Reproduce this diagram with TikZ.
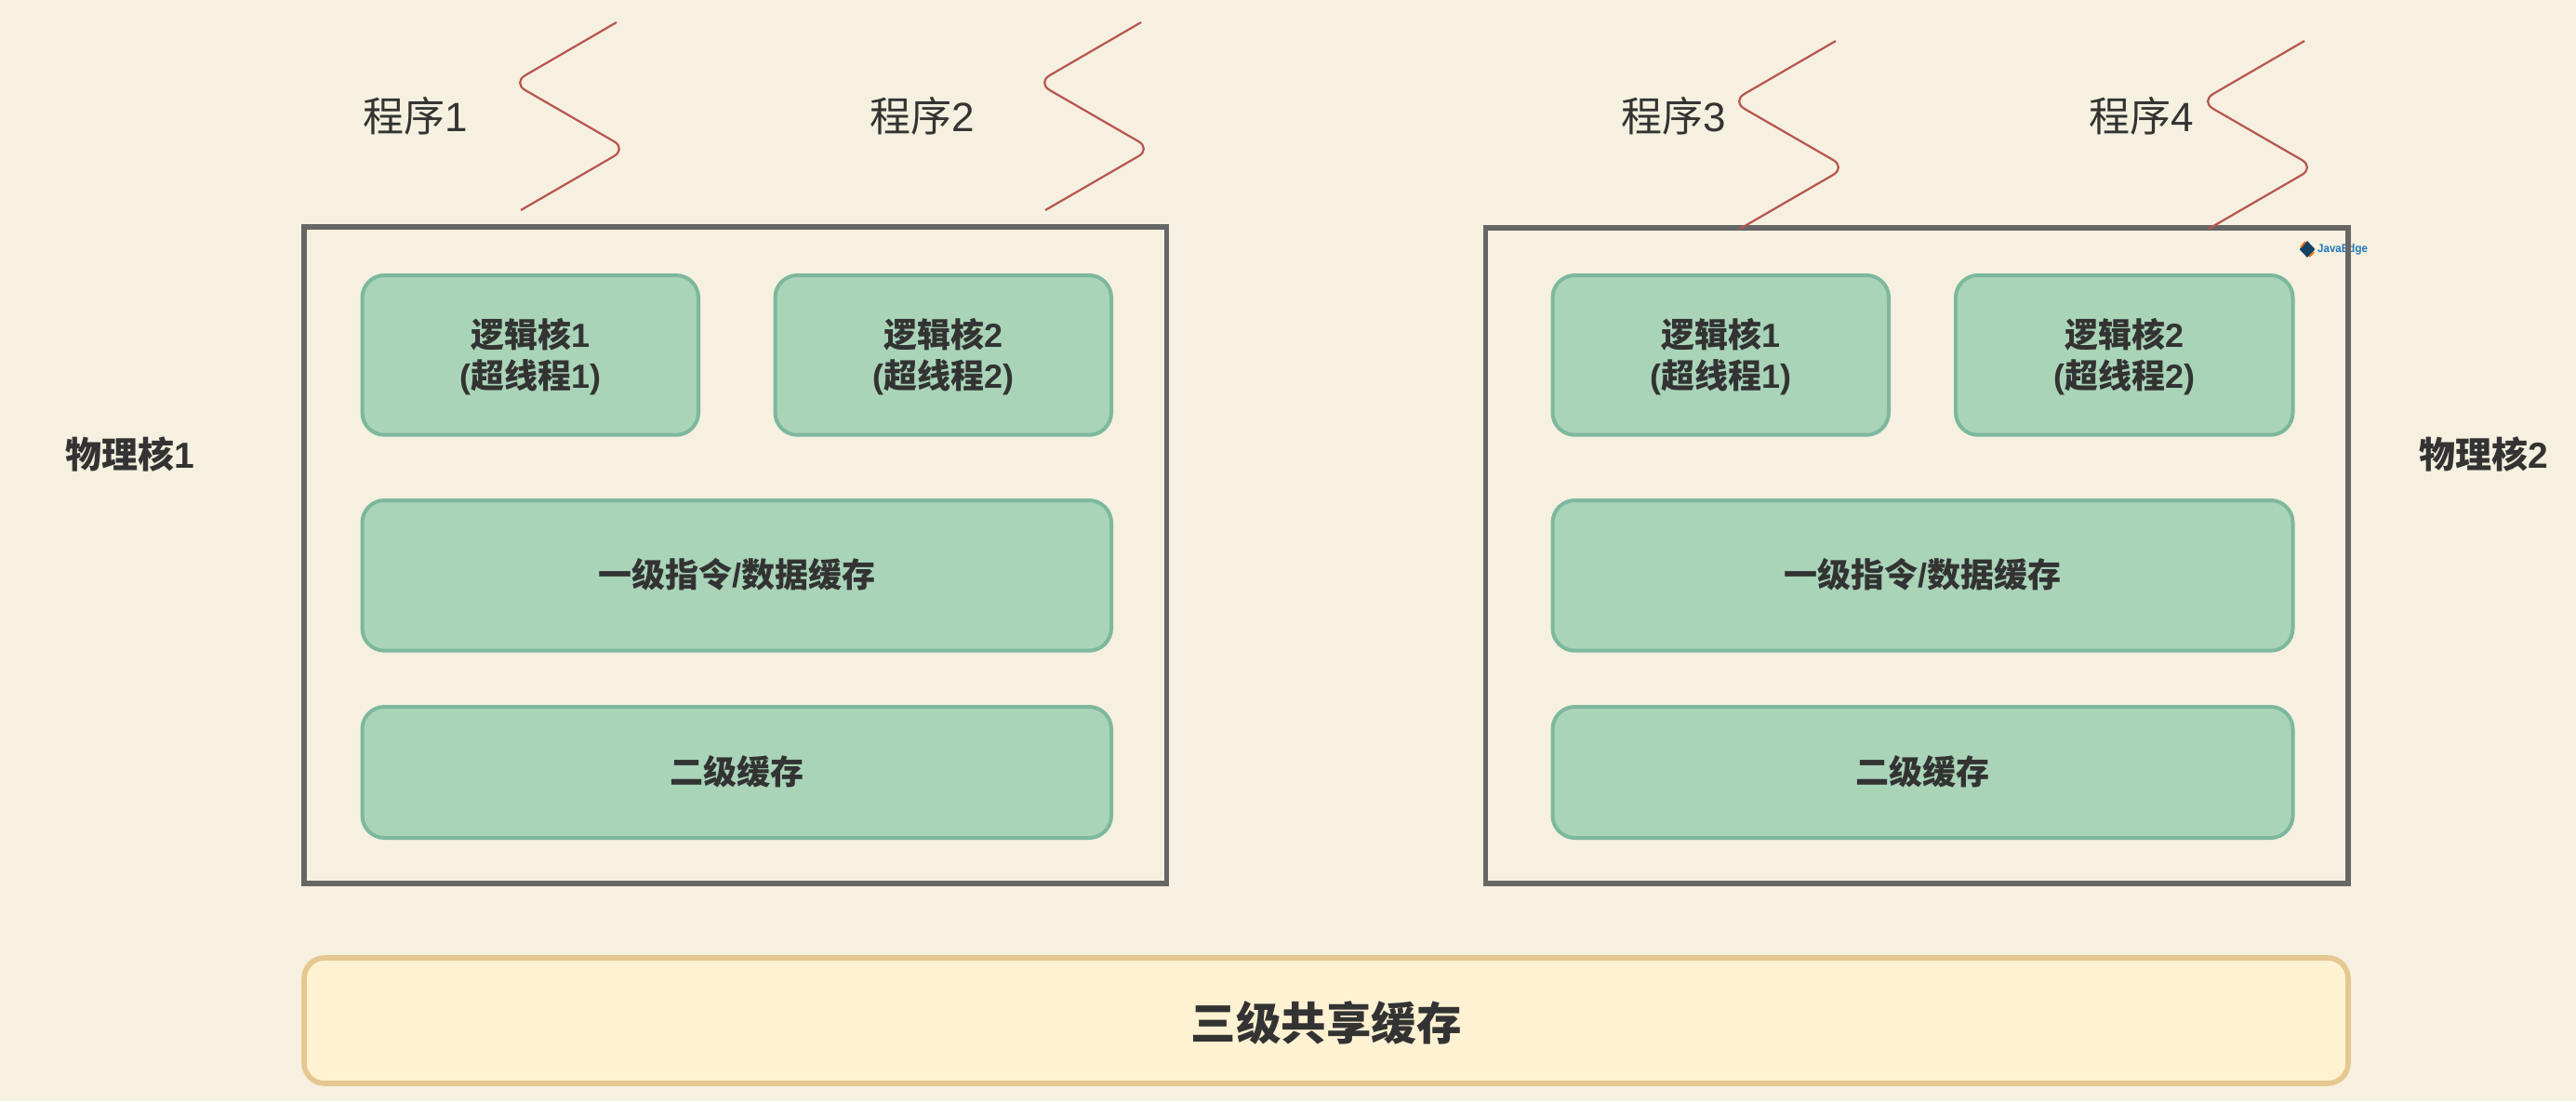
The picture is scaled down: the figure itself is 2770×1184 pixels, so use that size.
\documentclass[tikz,border=0pt]{standalone}
\usepackage{fontspec}
\usepackage{graphicx}
\setmainfont{Liberation Sans}
\newfontfamily\cjk{Noto Sans CJK SC}
\usetikzlibrary{shapes.geometric,calc}
\definecolor{bgc}{HTML}{F5F0DF}
\definecolor{txt}{HTML}{333333}
\definecolor{framec}{HTML}{666666}
\definecolor{gf}{HTML}{A9D4B8}
\definecolor{gd}{HTML}{7DB89E}
\definecolor{yf}{HTML}{FFF2D2}
\definecolor{yd}{HTML}{E6C78F}
\definecolor{zig}{HTML}{B85450}
\definecolor{jb}{HTML}{1F76B8}
\tikzset{
  x=1pt,y=-1pt,
  frame/.style={draw=framec,line width=5.6pt,inner sep=0pt},
  gbox/.style={draw=gd,fill=gf,line width=4pt,rounded corners=24pt,text=txt,align=center,font=\fontsize{36}{43.5}\selectfont\bfseries},
  ybox/.style={draw=yd,fill=yf,line width=5.6pt,rounded corners=22pt,text=txt,font=\fontsize{48.5}{58}\selectfont\bfseries},
  prog/.style={text=txt,font=\fontsize{44}{52}\selectfont,inner sep=0pt},
  core/.style={text=txt,font=\fontsize{39}{46}\selectfont\bfseries,inner sep=0pt},
  zigzag/.style={draw=zig,line width=2.2pt,rounded corners=16pt},
}
\newcommand{\myzig}[3]{%
  \coordinate (#1s) at (#2+560,#3+226);
  \coordinate (#1a) at (#2+674,#3+160);
  \coordinate (#1b) at (#2+551,#3+89);
  \coordinate (#1e) at (#2+663,#3+24);
  \draw[zigzag] (#1s) -- (#1a) -- (#1b) -- (#1e);
}
% [style]{name}{x1}{y1}{x2}{y2}{text shift}{text}
\newcommand{\mybox}[8][gbox]{%
  \path[#1] (#3,#4) rectangle (#5,#6);
  \node[#1,draw=none,fill=none,inner sep=0pt] (#2) at ($(#3,#4)!0.5!(#5,#6)+(0,#7)$) {#8};
}
\begin{document}
\begin{tikzpicture}
\useasboundingbox (0,0) rectangle (2770,1184);
\fill[bgc] (0,0) rectangle (2770,1184);

% logo (lies under the frame)
\node[diamond,fill=jb!55!black,minimum width=17pt,minimum height=18pt,inner sep=0pt] (lg) at (2481,268) {};
\draw[orange!80!red,line width=1.8pt] (2474,266) -- (2479,260);
\draw[orange!80!red,line width=1.8pt] (2488,271) -- (2483,276);
\node[anchor=west,inner sep=0pt,text=jb,font=\fontsize{12.5}{13}\selectfont\bfseries] (lt) at (2492,268) {\scalebox{.92}[1]{JavaEdge}};

\draw[frame] (327,244) rectangle (1254.5,949.7);
\draw[frame] (1597.3,245) rectangle (2524.8,949.7);

\mybox{a1}{389.5}{296}{751}{467.7}{2}{{\cjk 逻辑核}1\\({\cjk 超线程}1)}
\mybox{a2}{833.5}{296}{1195}{467.7}{2}{{\cjk 逻辑核}2\\({\cjk 超线程}2)}
\mybox{a3}{389.5}{538}{1195}{699.7}{-1}{{\cjk 一级指令}/{\cjk 数据缓存}}
\mybox{a4}{389.5}{760}{1195}{901}{-1}{{\cjk 二级缓存}}

\mybox{b1}{1669.5}{296}{2031}{467.7}{2}{{\cjk 逻辑核}1\\({\cjk 超线程}1)}
\mybox{b2}{2103}{296}{2465.5}{467.7}{2}{{\cjk 逻辑核}2\\({\cjk 超线程}2)}
\mybox{b3}{1669.5}{538}{2465.5}{699.7}{-1}{{\cjk 一级指令}/{\cjk 数据缓存}}
\mybox{b4}{1669.5}{760}{2465.5}{901}{-1}{{\cjk 二级缓存}}

\mybox[ybox]{c}{327}{1030}{2525}{1165}{2}{{\cjk 三级共享缓存}}

\node[prog] (p1) at (447,125) {{\cjk 程序}1};
\node[prog] (p2) at (992,125) {{\cjk 程序}2};
\node[prog] (p3) at (1800,125) {{\cjk 程序}3};
\node[prog] (p4) at (2303,125) {{\cjk 程序}4};
\node[core] (k1) at (140,488) {{\cjk 物理核}1};
\node[core] (k2) at (2671,488) {{\cjk 物理核}2};

\myzig{z1}{0}{0}
\myzig{z2}{564}{0}
\myzig{z3}{1311}{20}
\myzig{z4}{1815}{20}
\end{tikzpicture}
\end{document}
